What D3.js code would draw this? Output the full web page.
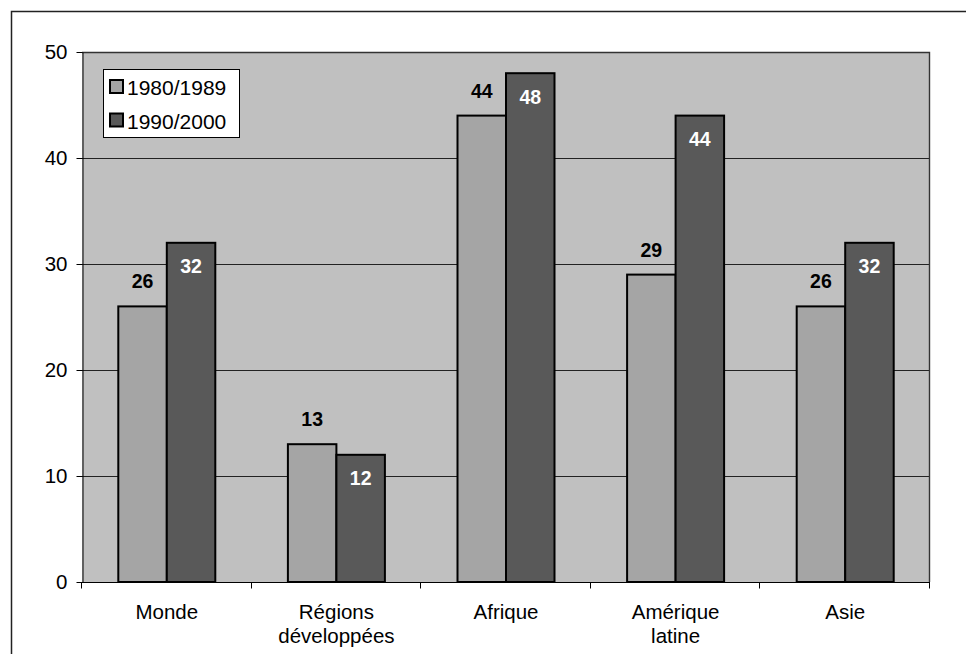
<!DOCTYPE html>
<html>
<head>
<meta charset="utf-8">
<script src="https://cdn.jsdelivr.net/npm/d3@7"></script>
<style>
  html, body { margin: 0; padding: 0; background: #fff; }
  svg { display: block; font-family: Arial, "Liberation Sans", sans-serif; }
</style>
</head>
<body>
<svg id="chart" width="966" height="654"></svg>
<script>
// Data
const categories = [["Monde"], ["Régions", "développées"], ["Afrique"], ["Amérique", "latine"], ["Asie"]];
const categoryKeys = ["Monde", "Régions développées", "Afrique", "Amérique latine", "Asie"];
const seriesNames = ["1980/1989", "1990/2000"];
const values1980 = [26, 13, 44, 29, 26];
const values1990 = [32, 12, 48, 44, 32];
const yTicks = [0, 10, 20, 30, 40, 50];

const colors = ["#a5a5a5", "#595959"];
const FS = 20.5;

const svg = d3.select("#chart");
const W = 966, H = 654;
const plot = { left: 82, top: 52, right: 930, bottom: 582 };

// Outer frame (extends past the right and bottom edges)
svg.append("rect")
  .attr("x", 11.5).attr("y", 11.5)
  .attr("width", W + 10).attr("height", H + 10)
  .attr("fill", "#fff").attr("stroke", "#222").attr("stroke-width", 1.5);

const x = d3.scaleBand().domain(categoryKeys).range([plot.left, plot.right]).padding(0);
const y = d3.scaleLinear().domain([0, 50]).range([plot.bottom, plot.top]);

// Plot background
svg.append("rect")
  .attr("x", plot.left).attr("y", plot.top)
  .attr("width", plot.right - plot.left).attr("height", plot.bottom - plot.top)
  .attr("fill", "#c0c0c0");

// Gridlines
svg.append("g")
  .selectAll("line")
  .data(yTicks.filter(t => t > 0 && t < 50))
  .join("line")
  .attr("x1", plot.left).attr("x2", plot.right)
  .attr("y1", d => Math.round(y(d)) + 0.5).attr("y2", d => Math.round(y(d)) + 0.5)
  .attr("stroke", "#222").attr("stroke-width", 1);

// Plot border (top and right)
svg.append("path")
  .attr("d", `M${plot.left},${plot.top + 0.5}H${plot.right - 0.5}V${plot.bottom}`)
  .attr("fill", "none").attr("stroke", "#333").attr("stroke-width", 1.4);

// Bars
const barW = 48.5;
const series = [values1980, values1990];
series.forEach((vals, si) => {
  svg.append("g")
    .selectAll("rect")
    .data(vals)
    .join("rect")
    .attr("x", (d, i) => x(categoryKeys[i]) + x.bandwidth() / 2 + (si - 1) * barW)
    .attr("y", d => y(d))
    .attr("width", barW)
    .attr("height", d => y(0) - y(d))
    .attr("fill", colors[si])
    .attr("stroke", "#000")
    .attr("stroke-width", 2);
});

// Value labels
svg.append("g")
  .selectAll("text")
  .data(values1980)
  .join("text")
  .attr("x", (d, i) => x(categoryKeys[i]) + x.bandwidth() / 2 - barW / 2)
  .attr("y", d => y(d) - 18)
  .attr("text-anchor", "middle")
  .attr("font-size", 19.5).attr("font-weight", "bold").attr("fill", "#000")
  .text(d => d);

svg.append("g")
  .selectAll("text")
  .data(values1990)
  .join("text")
  .attr("x", (d, i) => x(categoryKeys[i]) + x.bandwidth() / 2 + barW / 2)
  .attr("y", d => y(d) + 30.5)
  .attr("text-anchor", "middle")
  .attr("font-size", 19.5).attr("font-weight", "bold").attr("fill", "#fff")
  .text(d => d);

// Y axis
const yAxis = d3.axisLeft(y).tickValues(yTicks).tickSize(6).tickPadding(9).tickSizeOuter(0);
const gy = svg.append("g").attr("transform", `translate(${plot.left + 0.5},0)`).call(yAxis);
gy.select(".domain").attr("stroke", "#000");
gy.selectAll(".tick line").attr("stroke", "#000");
gy.selectAll(".tick text").attr("font-size", FS).attr("fill", "#000")
  .attr("font-family", "Arial, 'Liberation Sans', sans-serif");

// X axis: ticks at category boundaries
const gx = svg.append("g").attr("transform", `translate(0,${plot.bottom + 0.5})`);
gx.append("line").attr("x1", plot.left).attr("x2", plot.right)
  .attr("stroke", "#000").attr("stroke-width", 1);
const boundaries = categoryKeys.map(k => x(k)).concat([plot.right]);
gx.selectAll("line.tick")
  .data(boundaries)
  .join("line")
  .attr("class", "tick")
  .attr("x1", d => Math.round(d) - 0.5).attr("x2", d => Math.round(d) - 0.5)
  .attr("y1", 0).attr("y2", 6)
  .attr("stroke", "#000");

// Category labels
const catG = svg.append("g");
categories.forEach((lines, i) => {
  const t = catG.append("text")
    .attr("x", x(categoryKeys[i]) + x.bandwidth() / 2)
    .attr("y", 619)
    .attr("text-anchor", "middle")
    .attr("font-size", FS).attr("fill", "#000");
  lines.forEach((ln, j) => {
    t.append("tspan")
      .attr("x", x(categoryKeys[i]) + x.bandwidth() / 2)
      .attr("dy", j === 0 ? 0 : 24)
      .text(ln);
  });
});

// Legend
const lg = svg.append("g");
lg.append("rect")
  .attr("x", 103.5).attr("y", 69.5).attr("width", 136).attr("height", 68)
  .attr("fill", "#fff").attr("stroke", "#000").attr("stroke-width", 1);
seriesNames.forEach((name, i) => {
  const yy = 80 + i * 33.5;
  lg.append("rect")
    .attr("x", 110).attr("y", yy).attr("width", 13).attr("height", 13)
    .attr("fill", colors[i]).attr("stroke", "#000").attr("stroke-width", 2);
  lg.append("text")
    .attr("x", 127).attr("y", yy + 15)
    .attr("font-size", 21).attr("fill", "#000")
    .text(name);
});
</script>
</body>
</html>
